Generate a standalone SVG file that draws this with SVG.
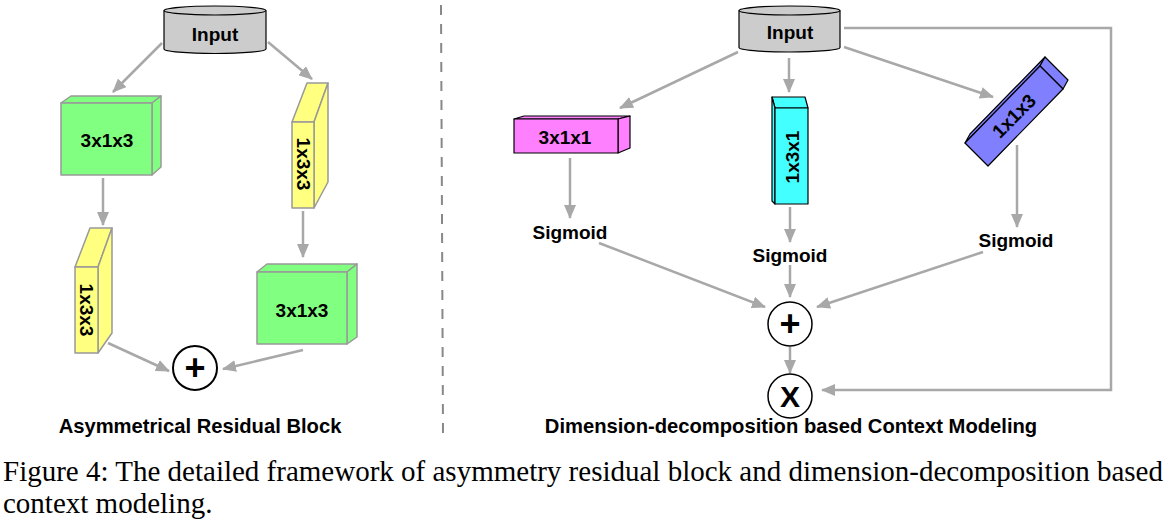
<svg xmlns="http://www.w3.org/2000/svg" width="1171" height="524" viewBox="0 0 1171 524">
<style>
.lbl{font-family:"Liberation Sans",Arial,sans-serif;font-weight:bold;font-size:19px;fill:#000;text-anchor:middle}
.ttl{font-family:"Liberation Sans",Arial,sans-serif;font-weight:bold;font-size:20.2px;fill:#000;text-anchor:middle}
.big{font-family:"Liberation Sans",Arial,sans-serif;font-weight:bold;fill:#000;text-anchor:middle}
.cap{font-family:"Liberation Serif","Times New Roman",serif;font-size:29px;fill:#000}
.conn{fill:none;stroke:#a8a8a8;stroke-width:2.5;marker-end:url(#ah)}
.cyl{fill:#cccccc;stroke:#000;stroke-width:1.2}
.gbox{fill:#80ff80;stroke:#999;stroke-width:1.5;stroke-linejoin:round}
.ybox{fill:#ffff80;stroke:#999;stroke-width:1.5;stroke-linejoin:round}
.mbox{fill:#ff80ff;stroke:#000;stroke-width:1.2;stroke-linejoin:round}
.cbox{fill:#44ffff;stroke:#000;stroke-width:1.2;stroke-linejoin:round}
.bbox{fill:#8080ff;stroke:#000;stroke-width:1.2;stroke-linejoin:round}
.op{fill:#fff;stroke:#000;stroke-width:1.5}
</style>
<defs>
<marker id="ah" viewBox="0 0 14 12" refX="13" refY="6" markerWidth="14" markerHeight="12" markerUnits="userSpaceOnUse" orient="auto">
<path d="M0,0 L14,6 L0,12 z" fill="#a8a8a8"/>
</marker>
</defs>
<rect width="1171" height="524" fill="#fff"/>

<g id="divider">
<line x1="441" y1="5" x2="443" y2="433" stroke="#888" stroke-width="2" stroke-dasharray="10 9"/>
</g>

<g id="connectors">
<line class="conn" x1="162" y1="43" x2="113" y2="92"/>
<line class="conn" x1="268" y1="42" x2="312" y2="79"/>
<line class="conn" x1="103" y1="178" x2="103" y2="225"/>
<line class="conn" x1="303" y1="211" x2="303" y2="257"/>
<line class="conn" x1="108" y1="343" x2="169" y2="371"/>
<line class="conn" x1="303" y1="350" x2="223" y2="369"/>
<line class="conn" x1="738" y1="52" x2="620" y2="108"/>
<line class="conn" x1="789" y1="58" x2="789" y2="92"/>
<line class="conn" x1="844" y1="47" x2="993" y2="97"/>
<line class="conn" x1="570" y1="158" x2="570" y2="218"/>
<line class="conn" x1="790" y1="207" x2="790" y2="242"/>
<line class="conn" x1="1017" y1="145" x2="1017" y2="227"/>
<line class="conn" x1="599" y1="243" x2="765" y2="307"/>
<line class="conn" x1="790" y1="265" x2="790" y2="297"/>
<line class="conn" x1="983" y1="252" x2="817" y2="307"/>
<line class="conn" x1="790" y1="347" x2="790" y2="373"/>
<polyline class="conn" points="844,28 1111,28 1111,390 822,390"/>
</g>

<g id="input-left">
<path class="cyl" d="M164,10.5 L164,49 A51,4.5 0 0 0 266,49 L266,10.5"/>
<ellipse class="cyl" cx="215" cy="10.5" rx="51" ry="4.5"/>
<text class="lbl" x="215" y="41" font-size="20">Input</text>
</g>

<g id="conv-3x1x3-a">
<polygon class="gbox" points="61,103 71,96 161,96 152,103"/>
<polygon class="gbox" points="152,103 161,96 161,167 152,175"/>
<rect class="gbox" x="61" y="103" width="91" height="72"/>
<text class="lbl" x="107" y="147">3x1x3</text>
</g>

<g id="conv-1x3x3-a">
<polygon class="ybox" points="292,122 307,83 328,83 314,122"/>
<polygon class="ybox" points="314,122 328,83 328,182 314,208"/>
<rect class="ybox" x="292" y="122" width="22" height="86"/>
<text class="lbl" font-size="18" dominant-baseline="central" transform="translate(303,164) rotate(90)">1x3x3</text>
</g>

<g id="conv-1x3x3-b">
<polygon class="ybox" points="75,267 90,228 112,228 98,267"/>
<polygon class="ybox" points="98,267 112,228 112,333 98,353"/>
<rect class="ybox" x="75" y="267" width="23" height="86"/>
<text class="lbl" font-size="18" dominant-baseline="central" transform="translate(86,310) rotate(90)">1x3x3</text>
</g>

<g id="conv-3x1x3-b">
<polygon class="gbox" points="257,272 267,264 357,264 347,272"/>
<polygon class="gbox" points="347,272 357,264 357,337 347,344"/>
<rect class="gbox" x="257" y="272" width="90" height="72"/>
<text class="lbl" x="302" y="317">3x1x3</text>
</g>

<g id="add-left">
<circle cx="195" cy="368" r="22" fill="#fff" stroke="#000" stroke-width="2"/>
<text class="big" x="195" y="380" font-size="36">+</text>
</g>

<g id="title-left">
<text class="ttl" x="200" y="433">Asymmetrical Residual Block</text>
</g>

<g id="input-right">
<path class="cyl" d="M739,10.5 L739,47.5 A50.5,4.5 0 0 0 840,47.5 L840,10.5"/>
<ellipse class="cyl" cx="789.5" cy="10.5" rx="50.5" ry="4.5"/>
<text class="lbl" x="790" y="39" font-size="20">Input</text>
</g>

<g id="conv-3x1x1">
<polygon class="mbox" points="514,119 524,116 630,116 618,119"/>
<polygon class="mbox" points="618,119 630,116 630,148 618,153"/>
<rect class="mbox" x="514" y="119" width="104" height="34"/>
<text class="lbl" x="565" y="144">3x1x1</text>
</g>

<g id="conv-1x3x1">
<polygon class="cbox" points="772,97 805,97 808,108 775,108"/>
<polygon class="cbox" points="772,97 775,108 775,204 772,201"/>
<rect class="cbox" x="775" y="108" width="33" height="96"/>
<text class="lbl" font-size="18" dominant-baseline="central" transform="translate(792,157) rotate(-90)">1x3x1</text>
</g>

<g id="conv-1x1x3">
<polygon class="bbox" points="965,143 1040,66 1045,57 970,134"/>
<polygon class="bbox" points="1040,66 1045,57 1068,80 1063,89"/>
<polygon class="bbox" points="965,143 988,166 1063,89 1040,66"/>
<text class="lbl" font-size="18" dominant-baseline="central" transform="translate(1014,116) rotate(-45)">1x1x3</text>
</g>

<g id="sigmoid-1"><text class="lbl" x="570" y="239">Sigmoid</text></g>
<g id="sigmoid-2"><text class="lbl" x="790" y="262">Sigmoid</text></g>
<g id="sigmoid-3"><text class="lbl" x="1016" y="247">Sigmoid</text></g>

<g id="add-right">
<circle class="op" cx="790" cy="324" r="22"/>
<text class="big" x="790" y="336" font-size="36">+</text>
</g>

<g id="mul">
<circle class="op" cx="790" cy="396" r="22"/>
<text class="big" x="790" y="407" font-size="30">X</text>
</g>

<g id="title-right">
<text class="ttl" x="791" y="433">Dimension-decomposition based Context Modeling</text>
</g>

<g id="caption">
<text class="cap" x="3" y="481">Figure 4: The detailed framework of asymmetry residual block and dimension-decomposition based</text>
<text class="cap" x="3" y="513">context modeling.</text>
</g>
</svg>
